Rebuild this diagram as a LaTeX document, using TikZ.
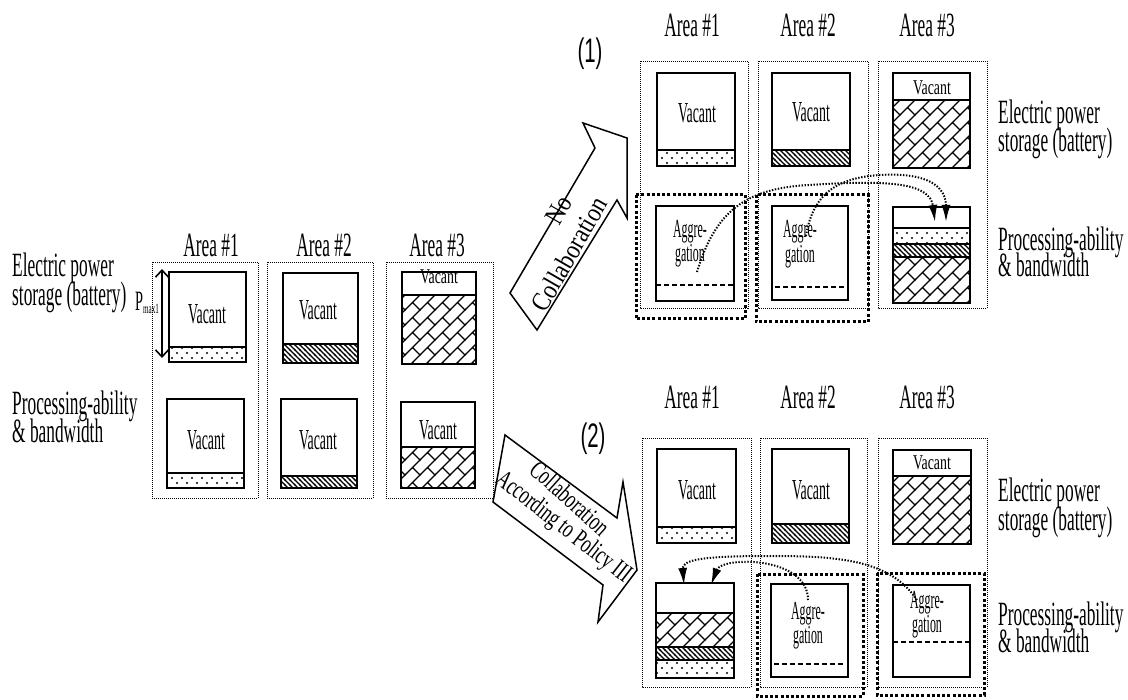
\documentclass[tikz,border=0pt]{standalone}
\usepackage{fontspec}
\setmainfont{Liberation Serif}
\newfontfamily\fLab{Liberation Serif}[FakeStretch=0.51]
\newfontfamily\fVac{Liberation Serif}[FakeStretch=0.48]
\newfontfamily\fAgg{Liberation Serif}[FakeStretch=0.46]
\newfontfamily\fSm{Liberation Serif}[FakeStretch=0.66]
\newfontfamily\fMid{Liberation Serif}[FakeStretch=0.68]
\newfontfamily\fBig{Liberation Serif}[FakeStretch=0.85]
\newfontfamily\fNum{Liberation Sans}[FakeStretch=0.6]
\usetikzlibrary{patterns,arrows.meta}
\pgfdeclarepatternformonly{sdots}{\pgfqpoint{-1pt}{-1pt}}{\pgfqpoint{11pt}{11pt}}{\pgfqpoint{10pt}{10pt}}{%
  \pgfpathcircle{\pgfqpoint{2pt}{2pt}}{1.1pt}\pgfpathcircle{\pgfqpoint{7pt}{7pt}}{1.1pt}\pgfusepath{fill}}
\pgfdeclarepatternformonly{nwl}{\pgfqpoint{-1pt}{-1pt}}{\pgfqpoint{6pt}{6pt}}{\pgfqpoint{5pt}{5pt}}{%
  \pgfsetlinewidth{1.1pt}\pgfpathmoveto{\pgfqpoint{-1pt}{6pt}}\pgfpathlineto{\pgfqpoint{6pt}{-1pt}}\pgfusepath{stroke}}
\pgfdeclarepatternformonly{dbrick}{\pgfqpoint{-1pt}{-1pt}}{\pgfqpoint{16pt}{16pt}}{\pgfqpoint{15pt}{15pt}}{%
  \pgfsetlinewidth{1.2pt}\pgfpathmoveto{\pgfqpoint{-1pt}{-1pt}}\pgfpathlineto{\pgfqpoint{16pt}{16pt}}%
  \pgfpathmoveto{\pgfqpoint{7.5pt}{7.5pt}}\pgfpathlineto{\pgfqpoint{15pt}{0pt}}\pgfusepath{stroke}}
\newcommand{\lay}[5]{\fill[pattern=#5] (#1,#3) rectangle (#2,#4); \draw[sep] (#1,#3) -- (#2,#3);}
\tikzset{
 area/.style={line width=0.9pt, dash pattern=on 1pt off 1pt},
 inbox/.style={line width=2pt},
 sep/.style={line width=1.8pt},
 agg/.style={line width=3pt, dash pattern=on 3pt off 2.2pt},
 inl/.style={line width=1.8pt, dash pattern=on 5pt off 3pt},
 flow/.style={line width=2pt, dash pattern=on 1.4pt off 1.6pt, -{Latex[length=17pt,width=9pt]}},
 lab/.style={inner sep=0pt, font=\fLab\fontsize{34}{34}\selectfont, anchor=base west},
 arealab/.style={inner sep=0pt, font=\fLab\fontsize{34}{34}\selectfont, anchor=base},
 vac/.style={inner sep=0pt, font=\fVac\fontsize{29}{29}\selectfont},
 svac/.style={inner sep=0pt, font=\fSm\fontsize{21}{21}\selectfont},
 aggt/.style={inner sep=0pt, font=\fAgg\fontsize{26}{26}\selectfont},
 fat/.style={line width=1.5pt, fill=white, line join=miter},
 num/.style={inner sep=0pt, font=\fNum\fontsize{34}{34}\selectfont},
}
\begin{document}
\begin{tikzpicture}[x=1pt,y=-1pt]
\useasboundingbox (0,0) rectangle (1128,700);

% ================= LEFT GROUP =================
\node[arealab] (la1) at (211,257) {Area \#1};
\node[arealab] (la2) at (324,257) {Area \#2};
\node[arealab] (la3) at (437,257) {Area \#3};
\draw[area] (152,262) rectangle (258,498);
\draw[area] (267,262) rectangle (373,498);
\draw[area] (386,262) rectangle (493,498);
% area 1
\lay{169}{246}{347}{362}{sdots}
\draw[inbox] (169,272) rectangle (246,362);
\node[vac] (lv1) at (207,314) {Vacant};
\lay{167}{244}{473}{488}{sdots}
\draw[inbox] (167,399) rectangle (244,488);
\node[vac] (lv2) at (206,440) {Vacant};
% area 2
\lay{283}{358}{344}{363}{nwl}
\draw[inbox] (283,273) rectangle (358,363);
\node[vac] (lv3) at (318,310) {Vacant};
\lay{281}{357}{476}{488}{nwl}
\draw[inbox] (281,399) rectangle (357,488);
\node[vac] (lv4) at (318,440) {Vacant};
% area 3
\lay{402}{476}{295}{364}{dbrick}
\node[svac] (lv5) at (439,277) {Vacant};
\draw[inbox] (402,272) rectangle (476,364);
\lay{401}{475}{447}{488}{dbrick}
\draw[inbox] (401,402) rectangle (475,488);
\node[vac] (lv6) at (438,430) {Vacant};
% Pmax arrow
\coordinate (pt) at (162,269);
\coordinate (pb) at (162,358);
\draw[line width=1.6pt, {Straight Barb[length=7pt,width=13pt]}-{Straight Barb[length=7pt,width=13pt]}] (pt) -- (pb);
\node[inner sep=0pt, anchor=base] (pmax) at (147,311) {\fLab\fontsize{28}{28}\selectfont P\raisebox{-3pt}{\fontsize{14}{14}\selectfont max1}};
% left labels
\node[lab] (ll1) at (12,277) {Electric power};
\node[lab] (ll2) at (12,306) {storage (battery)};
\node[lab] (ll3) at (12,415) {Processing-ability};
\node[lab] (ll4) at (12,443) {\& bandwidth};

% ================= FAT ARROWS =================
\draw[fat] (510,293) -- (595,148) -- (583,123) -- (627,138) -- (627,218) -- (617,200) -- (537,330) -- cycle;
\node[inner sep=0pt, rotate=60, font=\fBig\fontsize{27}{27}\selectfont] (no) at (559,210) {No};
\node[inner sep=0pt, rotate=60, font=\fBig\fontsize{27}{27}\selectfont] (col1) at (569,254) {Collaboration};
\draw[fat] (505,435) -- (617,518) -- (623,482) -- (637,570) -- (598,622) -- (603,585) -- (493,502) -- cycle;
\node[inner sep=0pt, rotate=-42, font=\fMid\fontsize{26}{26}\selectfont] (col2) at (570,498) {Collaboration};
\node[inner sep=0pt, rotate=-38, font=\fMid\fontsize{26}{26}\selectfont] (acc) at (563,528) {According to Policy III};

% ================= TOP RIGHT (1) =================
\node[num] (n1) at (590,54) {(1)};
\node[arealab] (ta1) at (692,37) {Area \#1};
\node[arealab] (ta2) at (808,37) {Area \#2};
\node[arealab] (ta3) at (927,37) {Area \#3};
\draw[area] (640,61) rectangle (748,308);
\draw[area] (758,61) rectangle (868,308);
\draw[area] (878,61) rectangle (987,308);
\lay{657}{735}{150}{166}{sdots}
\draw[inbox] (657,73) rectangle (735,166);
\node[vac] (tv1) at (697,113) {Vacant};
\lay{772}{850}{150}{166}{nwl}
\draw[inbox] (772,73) rectangle (850,166);
\node[vac] (tv2) at (811,112) {Vacant};
\lay{893}{970}{100}{168}{dbrick}
\draw[sep] (893,100) -- (970,100);
\draw[inbox] (893,73) rectangle (970,168);
\node[svac] (tv3) at (932,88) {Vacant};
% aggregation boxes
\draw[inbox] (656,206) rectangle (734,301);
\draw[inl] (656,285) -- (734,285);
\node[aggt] (tg1) at (690,232) {Aggre-};
\node[aggt] (tg1b) at (690,256) {gation};
\draw[inbox] (772,206) rectangle (848,300);
\draw[inl] (775,287) -- (845,287);
\node[aggt] (tg2) at (800,232) {Aggre-};
\node[aggt] (tg2b) at (800,257) {gation};
\draw[agg] (636,195) rectangle (745,319);
\draw[agg] (756,195) rectangle (868,322);
% area 3 bottom
\lay{893}{970}{228}{244}{sdots}
\lay{893}{970}{244}{257}{nwl}
\lay{893}{970}{257}{303}{dbrick}
\draw[inbox] (893,207) rectangle (970,303);
% labels
\node[lab] (r1a) at (998,124) {Electric power};
\node[lab] (r1b) at (998,152) {storage (battery)};
\node[lab] (r1c) at (998,251) {Processing-ability};
\node[lab] (r1d) at (998,277) {\& bandwidth};
% flows
\coordinate (fa) at (697,272);
\coordinate (fb) at (806,236);
\coordinate (ta) at (935,222);
\coordinate (tb) at (946,222);
\draw[flow] (fa) .. controls (715,212) and (745,188) .. (810,185) .. controls (885,180) and (930,182) .. (ta);
\draw[flow] (fb) .. controls (812,200) and (830,178) .. (880,175) .. controls (930,172) and (946,188) .. (tb);

% ================= BOTTOM RIGHT (2) =================
\node[num] (n2) at (593,439) {(2)};
\node[arealab] (ba1) at (692,409) {Area \#1};
\node[arealab] (ba2) at (808,409) {Area \#2};
\node[arealab] (ba3) at (927,409) {Area \#3};
\draw[area] (642,438) rectangle (751,687);
\draw[area] (760,438) rectangle (867,687);
\draw[area] (878,438) rectangle (987,687);
\lay{657}{736}{527}{543}{sdots}
\draw[inbox] (657,449) rectangle (736,543);
\node[vac] (bv1) at (697,490) {Vacant};
\lay{772}{849}{524}{543}{nwl}
\draw[inbox] (772,449) rectangle (849,543);
\node[vac] (bv2) at (811,490) {Vacant};
\lay{893}{971}{476}{544}{dbrick}
\draw[inbox] (893,450) rectangle (971,544);
\node[svac] (bv3) at (932,463) {Vacant};
% area 1 bottom (collected)
\lay{656}{734}{613}{647}{dbrick}
\lay{656}{734}{647}{660}{nwl}
\lay{656}{734}{660}{678}{sdots}
\draw[inbox] (656,583) rectangle (734,678);
% aggregation boxes
\draw[inbox] (771,584) rectangle (848,677);
\draw[inl] (774,664) -- (845,664);
\node[aggt] (bg2) at (808,614) {Aggre-};
\node[aggt] (bg2b) at (808,638) {gation};
\draw[inbox] (893,585) rectangle (970,677);
\draw[inl] (893,642) -- (970,642);
\node[aggt] (bg3) at (927,603) {Aggre-};
\node[aggt] (bg3b) at (927,627) {gation};
\draw[agg] (757,574) rectangle (863,696);
\draw[agg] (877,573) rectangle (984,695);
% labels
\node[lab] (r2a) at (998,502) {Electric power};
\node[lab] (r2b) at (998,530) {storage (battery)};
\node[lab] (r2c) at (998,625) {Processing-ability};
\node[lab] (r2d) at (998,652) {\& bandwidth};
% flows
\coordinate (fc) at (808,600);
\coordinate (fd) at (917,600);
\coordinate (tc) at (711,585);
\coordinate (td) at (684,585);
\draw[flow] (fc) .. controls (808,556) and (722,556) .. (tc);
\draw[flow] (fd) .. controls (890,560) and (840,556) .. (770,556) .. controls (700,556) and (682,560) .. (td);
\end{tikzpicture}
\end{document}
